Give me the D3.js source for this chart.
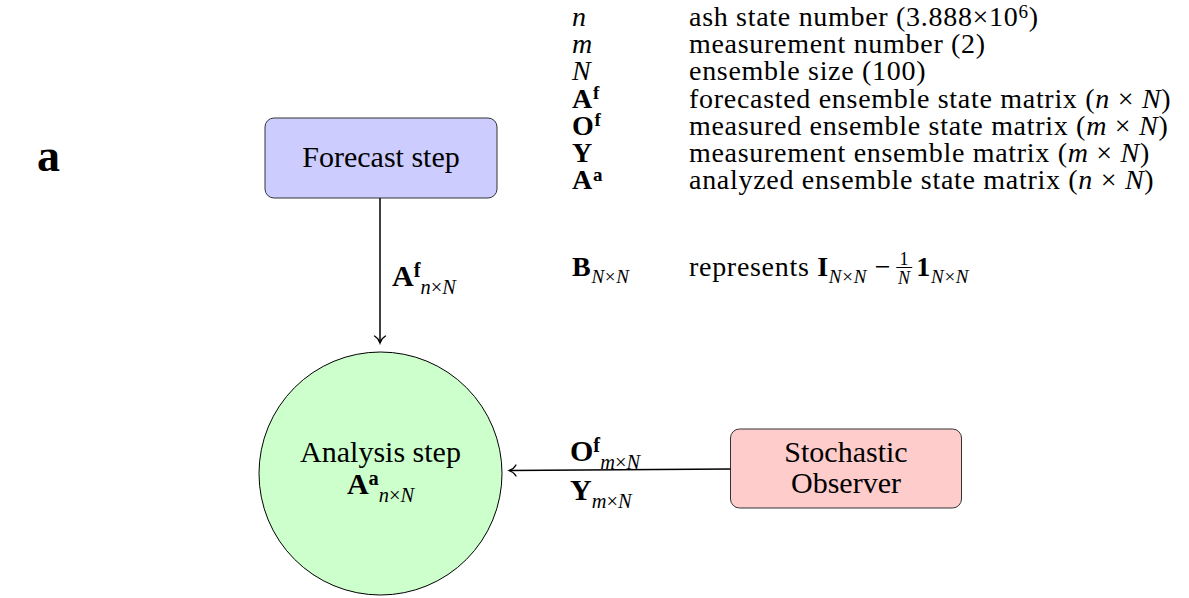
<!DOCTYPE html>
<html>
<head>
<meta charset="utf-8">
<script src="https://cdn.jsdelivr.net/npm/d3@7"></script>
<style>
  body { margin: 0; background: #fff; }
  svg text { font-family: "Liberation Serif", "DejaVu Serif", serif; fill: #000; }
</style>
</head>
<body>
<div id="chart"></div>
<script>
// legend: symbol column and description column, as [text, style] pieces
var legendSymbols = [
    [["n", "i"]],
    [["m", "i"]],
    [["N", "i"]],
    [["A", "b"], ["f", "b sup"]],
    [["O", "b"], ["f", "b sup"]],
    [["Y", "b"]],
    [["A", "b"], ["a", "b sup"]]
];
var legendDescriptions = [
    [["ash state number (3.888×10", ""], ["6", "sup"], [")", ""]],
    [["measurement number (2)", ""]],
    [["ensemble size (100)", ""]],
    [["forecasted ensemble state matrix (", ""], ["n", "i"], [" × ", ""], ["N", "i"], [")", ""]],
    [["measured ensemble state matrix (", ""], ["m", "i"], [" × ", ""], ["N", "i"], [")", ""]],
    [["measurement ensemble matrix (", ""], ["m", "i"], [" × ", ""], ["N", "i"], [")", ""]],
    [["analyzed ensemble state matrix (", ""], ["n", "i"], [" × ", ""], ["N", "i"], [")", ""]]
];
var bSymbol = [["B", "b"], ["N", "i sub"], ["×", "sub"], ["N", "i sub"]];
var bBefore = [["represents ", ""], ["I", "b"], ["N", "i sub"], ["×", "sub"], ["N", "i sub"], [" − ", ""]];
var bFraction = ["1", "N"];
var bAfter = [["1", "b"], ["N", "i sub"], ["×", "sub"], ["N", "i sub"]];

// diagram nodes and edge labels
var forecastLines = ["Forecast step"];
var analysisLines = [[["Analysis step", ""]], [["A", "b"], ["a", "b sup"], ["n", "i sub"], ["×", "sub"], ["N", "i sub"]]];
var observerLines = ["Stochastic", "Observer"];
var forecastEdgeLabel = [["A", "b"], ["f", "b sup"], ["n", "i sub"], ["×", "sub"], ["N", "i sub"]];
var observerEdgeTop = [["O", "b"], ["f", "b sup"], ["m", "i sub"], ["×", "sub"], ["N", "i sub"]];
var observerEdgeBottom = [["Y", "b"], ["m", "i sub"], ["×", "sub"], ["N", "i sub"]];
var panelLetter = "a";

var width = 1189, height = 598, fs = 30, legendFs = 28;

var svg = d3.select("#chart").append("svg")
    .attr("width", width)
    .attr("height", height);

// open TikZ-like arrow tip
svg.append("defs").append("marker")
    .attr("id", "tip")
    .attr("markerUnits", "userSpaceOnUse")
    .attr("viewBox", "-9 -7 11 14")
    .attr("refX", 0).attr("refY", 0)
    .attr("markerWidth", 11).attr("markerHeight", 14)
    .attr("orient", "auto")
    .append("path")
    .attr("d", "M-7,-5.5 C-5,-2 -2,-0.6 0,0 C-2,0.6 -5,2 -7,5.5")
    .attr("fill", "none")
    .attr("stroke", "#000")
    .attr("stroke-width", 1.3)
    .attr("stroke-linecap", "round");

function richText(g, x, y, segs, size, anchor) {
    var t = g.append("text")
        .attr("x", x).attr("y", y)
        .attr("font-size", size)
        .attr("text-anchor", anchor || "start");
    var shift = 0;
    segs.forEach(function (s) {
        var st = s[1] || "";
        var sup = st.indexOf("sup") >= 0, sub = st.indexOf("sub") >= 0;
        var target = sup ? -0.3 * size : sub ? 0.26 * size : 0;
        var ts = t.append("tspan").text(s[0]).attr("dy", target - shift);
        shift = target;
        if (sup || sub) ts.attr("font-size", size * 0.68);
        if (st.split(" ").indexOf("b") >= 0) ts.attr("font-weight", "bold");
        if (st.split(" ").indexOf("i") >= 0) ts.attr("font-style", "italic");
    });
    return t;
}

// panel letter
svg.append("text")
    .attr("x", 37).attr("y", 171)
    .attr("font-size", 46)
    .attr("font-weight", "bold")
    .text(panelLetter);

// legend
var symX = 572, descX = 689;
var rowY = d3.scaleLinear().domain([0, legendSymbols.length - 1]).range([26, 189]);
var legend = svg.append("g").attr("letter-spacing", 0.7);
legendSymbols.forEach(function (segs, i) {
    richText(legend, symX, rowY(i), segs, legendFs);
    richText(legend, descX, rowY(i), legendDescriptions[i], legendFs);
});
var bY = 276;
richText(legend, symX, bY, bSymbol, legendFs);
var before = richText(legend, descX, bY, bBefore, legendFs);
var fx = descX + before.node().getComputedTextLength() + 5;
var fracW = 16;
legend.append("text").attr("x", fx + fracW / 2).attr("y", bY - 11.5)
    .attr("font-size", 18).attr("text-anchor", "middle").text(bFraction[0]);
legend.append("line")
    .attr("x1", fx).attr("x2", fx + fracW)
    .attr("y1", bY - 8.5).attr("y2", bY - 8.5)
    .attr("stroke", "#000").attr("stroke-width", 1);
legend.append("text").attr("x", fx + fracW / 2).attr("y", bY + 8)
    .attr("font-size", 18).attr("font-style", "italic").attr("text-anchor", "middle").text(bFraction[1]);
richText(legend, fx + fracW + 4, bY, bAfter, legendFs);

// nodes
var diagram = svg.append("g");

var fBox = {x: 265, y: 118, w: 232, h: 80};
diagram.append("rect")
    .attr("x", fBox.x).attr("y", fBox.y)
    .attr("width", fBox.w).attr("height", fBox.h)
    .attr("rx", 9)
    .attr("fill", "#ccccff")
    .attr("stroke", "#333").attr("stroke-width", 1);
forecastLines.forEach(function (l) {
    diagram.append("text")
        .attr("x", fBox.x + fBox.w / 2).attr("y", fBox.y + fBox.h / 2 + 9)
        .attr("font-size", fs).attr("text-anchor", "middle").text(l);
});

var circ = {cx: 380.5, cy: 473.5, r: 121.5};
diagram.append("circle")
    .attr("cx", circ.cx).attr("cy", circ.cy).attr("r", circ.r)
    .attr("fill", "#ccffcc")
    .attr("stroke", "#000").attr("stroke-width", 1);
richText(diagram, circ.cx, 462, analysisLines[0], fs, "middle");
richText(diagram, circ.cx, 494, analysisLines[1], fs, "middle");

var oBox = {x: 730.5, y: 429, w: 231, h: 79};
diagram.append("rect")
    .attr("x", oBox.x).attr("y", oBox.y)
    .attr("width", oBox.w).attr("height", oBox.h)
    .attr("rx", 9)
    .attr("fill", "#ffcccc")
    .attr("stroke", "#333").attr("stroke-width", 1);
observerLines.forEach(function (l, i) {
    diagram.append("text")
        .attr("x", oBox.x + oBox.w / 2).attr("y", 462 + i * 31)
        .attr("font-size", fs).attr("text-anchor", "middle").text(l);
});

// edges
diagram.append("line")
    .attr("x1", 380).attr("y1", fBox.y + fBox.h)
    .attr("x2", 380).attr("y2", 343)
    .attr("stroke", "#000").attr("stroke-width", 1.5)
    .attr("marker-end", "url(#tip)");
richText(diagram, 392, 286, forecastEdgeLabel, fs);

diagram.append("line")
    .attr("x1", oBox.x).attr("y1", 469)
    .attr("x2", 509).attr("y2", 470.5)
    .attr("stroke", "#000").attr("stroke-width", 1.5)
    .attr("marker-end", "url(#tip)");
richText(diagram, 570, 461, observerEdgeTop, fs);
richText(diagram, 570, 500, observerEdgeBottom, fs);
</script>
</body>
</html>
